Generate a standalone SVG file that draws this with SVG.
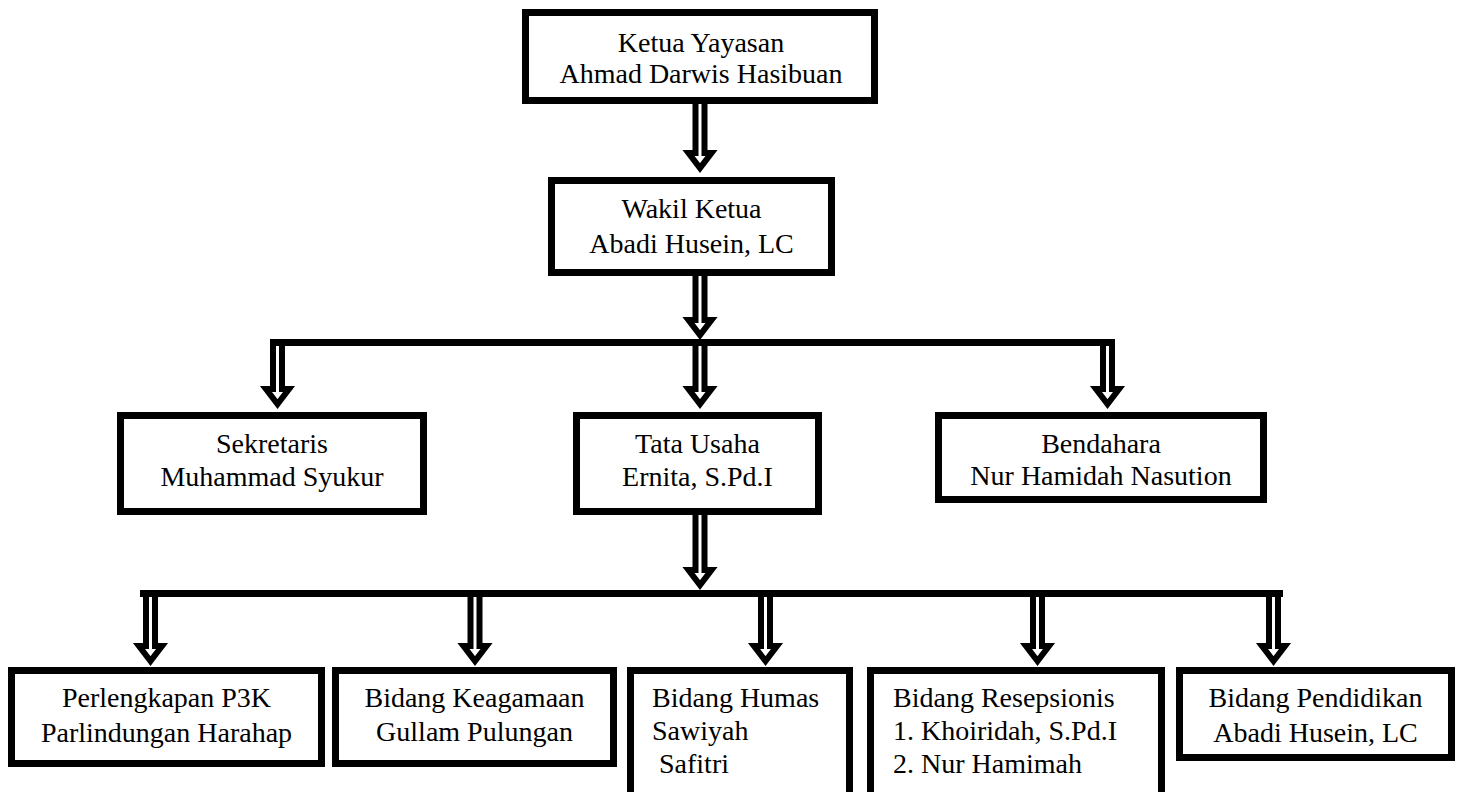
<svg xmlns="http://www.w3.org/2000/svg" width="1457" height="792" viewBox="0 0 1457 792">
<style>
.box{fill:#fff;stroke:#000;stroke-width:7}
.t{font-family:"Liberation Serif","Times New Roman",serif;font-size:28px;fill:#000}
.c{text-anchor:middle}
.arr{fill:#fff;stroke:#000;stroke-width:6;stroke-linejoin:miter}
.bar{fill:#000}
</style>
<rect width="1457" height="792" fill="#fff"/>
<g id="connectors">
<path class="arr" d="M695.5 101 H704.5 V153 H711.5 L700 168 L688.5 153 H695.5 Z"/>
<path class="arr" d="M695.5 273 H704.5 V320 H711.5 L700 335 L688.5 320 H695.5 Z"/>
<rect class="bar" x="270" y="339" width="845" height="7"/>
<path class="arr" d="M273 343 H282 V389 H289 L277.5 404 L266 389 H273 Z"/>
<path class="arr" d="M695.5 343 H704.5 V389 H711.5 L700 404 L688.5 389 H695.5 Z"/>
<path class="arr" d="M1103 343 H1112 V389 H1119 L1107.5 404 L1096 389 H1103 Z"/>
<path class="arr" d="M695.5 512 H704.5 V570 H711.5 L700 585 L688.5 570 H695.5 Z"/>
<rect class="bar" x="140" y="590" width="1143" height="7"/>
<path class="arr" d="M146 594 H155 V646 H162 L150.5 661 L139 646 H146 Z"/>
<path class="arr" d="M470.5 594 H479.5 V646 H486.5 L475 661 L463.5 646 H470.5 Z"/>
<path class="arr" d="M761 594 H770 V646 H777 L765.5 661 L754 646 H761 Z"/>
<path class="arr" d="M1033 594 H1042 V646 H1049 L1037.5 661 L1026 646 H1033 Z"/>
<path class="arr" d="M1269 594 H1278 V646 H1285 L1273.5 661 L1262 646 H1269 Z"/>
</g>
<g id="ketua">
<rect class="box" x="525.5" y="12.5" width="349" height="88"/>
<text class="t c" x="701" y="52">Ketua Yayasan</text>
<text class="t c" x="701" y="83">Ahmad Darwis Hasibuan</text>
</g>
<g id="wakil">
<rect class="box" x="551.5" y="180.5" width="280" height="92"/>
<text class="t c" x="691.5" y="218">Wakil Ketua</text>
<text class="t c" x="691.5" y="253">Abadi Husein, LC</text>
</g>
<g id="sekretaris">
<rect class="box" x="120.5" y="415.5" width="303" height="96"/>
<text class="t c" x="272" y="453">Sekretaris</text>
<text class="t c" x="272" y="486">Muhammad Syukur</text>
</g>
<g id="tatausaha">
<rect class="box" x="576.5" y="415.5" width="242" height="96"/>
<text class="t c" x="697.5" y="453">Tata Usaha</text>
<text class="t c" x="697.5" y="486">Ernita, S.Pd.I</text>
</g>
<g id="bendahara">
<rect class="box" x="938.5" y="415.5" width="325" height="84"/>
<text class="t c" x="1101" y="453">Bendahara</text>
<text class="t c" x="1101" y="485">Nur Hamidah Nasution</text>
</g>
<g id="perlengkapan">
<rect class="box" x="11.5" y="670.5" width="310" height="93"/>
<text class="t c" x="166.5" y="707">Perlengkapan P3K</text>
<text class="t c" x="166.5" y="742">Parlindungan Harahap</text>
</g>
<g id="keagamaan">
<rect class="box" x="335.5" y="670.5" width="278" height="93"/>
<text class="t c" x="474.5" y="707">Bidang Keagamaan</text>
<text class="t c" x="474.5" y="741">Gullam Pulungan</text>
</g>
<g id="humas">
<rect class="box" x="630.5" y="670.5" width="219" height="140"/>
<text class="t" x="652" y="707">Bidang Humas</text>
<text class="t" x="652" y="740">Sawiyah</text>
<text class="t" x="659" y="773">Safitri</text>
</g>
<g id="resepsionis">
<rect class="box" x="870.5" y="670.5" width="291" height="140"/>
<text class="t" x="893" y="707">Bidang Resepsionis</text>
<text class="t" x="893" y="740">1. Khoiridah, S.Pd.I</text>
<text class="t" x="893" y="773">2. Nur Hamimah</text>
</g>
<g id="pendidikan">
<rect class="box" x="1179.5" y="670.5" width="272" height="87"/>
<text class="t c" x="1315.5" y="707">Bidang Pendidikan</text>
<text class="t c" x="1315.5" y="742">Abadi Husein, LC</text>
</g>
</svg>
